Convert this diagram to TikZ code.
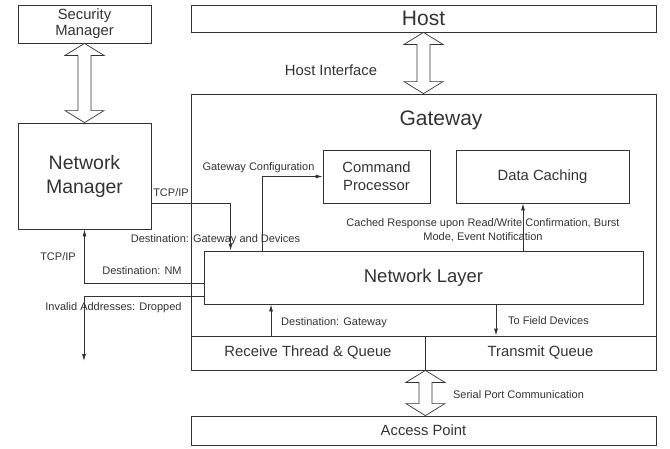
\documentclass[tikz,border=0pt]{standalone}
\usepackage{fontspec}
\setmainfont{Liberation Sans}
\usetikzlibrary{arrows.meta,calc}

% hollow two-headed arrow between two points on one vertical
\newcommand{\blockarrow}[2]{%
  \draw[fatarrow] (#1) -- ($(#1)+(19.5,12)$) -- ($(#1)+(6.5,12)$)
    -- ($(#2)+(6.5,-12)$) -- ($(#2)+(19.5,-12)$) -- (#2)
    -- ($(#2)+(-19.5,-12)$) -- ($(#2)+(-6.5,-12)$)
    -- ($(#1)+(-6.5,12)$) -- ($(#1)+(-19.5,12)$) -- cycle;}

\begin{document}
\begin{tikzpicture}[x=1pt,y=-1pt,>={Latex[length=7pt,width=4pt]},
                    line width=0.8pt,color=black!80]
  \tikzstyle{box}=[draw,rectangle,inner sep=0pt,align=center]
  \tikzstyle{huge}=[font=\fontsize{21}{25}\selectfont]
  \tikzstyle{big}=[font=\fontsize{19.5}{24}\selectfont]
  \tikzstyle{mid}=[font=\fontsize{14.8}{17.7}\selectfont]
  \tikzstyle{lbl}=[anchor=base,inner sep=0pt,align=center,
                   font=\fontsize{11}{14}\selectfont]
  \tikzstyle{flow}=[->]
  \tikzstyle{fatarrow}=[fill=white,line width=0.7pt]

  \useasboundingbox (0,0) rectangle (670,448);

	\node[box,mid,font=\fontsize{14.8}{16}\selectfont,
	      minimum width=133pt,minimum height=38pt]	(sm) at (84.5,24)	{Security\\Manager};
	\node[box,huge,minimum width=465pt,minimum height=27pt]	(host) at (423.5,18.5)	{Host};
	\node[box,big,minimum width=133pt,minimum height=106pt]	(nm) at (84.5,176)	{Network\\Manager};
	\node[box,minimum width=465pt,minimum height=242pt]	(gw) at (423.5,215)	{};
	\node[huge,anchor=base]	(gwtitle) at (441,125)	{Gateway};
	\node[box,mid,minimum width=107pt,minimum height=53pt]	(cp) at (376.5,176.5)	{Command\\Processor};
	\node[box,mid,minimum width=173pt,minimum height=53pt]	(dc) at (542.5,176.5)	{Data Caching};
	\node[box,font=\fontsize{18.5}{22}\selectfont,
	      minimum width=439pt,minimum height=53pt]	(nl) at (423.5,277.5)	{Network Layer};
	\node[box,mid,minimum width=234pt,minimum height=34pt]	(rx) at (308,353)	{Receive Thread \& Queue};
	\node[box,mid,minimum width=231pt,minimum height=34pt]	(tx) at (540.5,353)	{Transmit Queue};
	\node[box,mid,minimum width=465pt,minimum height=29pt]	(ap) at (423.5,430.5)	{Access Point};

	% labels
	\node[lbl,font=\fontsize{14.8}{17}\selectfont]	(hostif) at (331,75)	{Host Interface};
	\node[lbl]	(tcpa) at (171,196.7)	{TCP/IP};
	\node[lbl]	(gwconf) at (258.5,170)	{Gateway Configuration};
	\node[lbl]	(dstgd) at (215.5,242.3)	{Destination: Gateway and Devices};
	\node[lbl]	(cached) at (483,240.7)	{Cached Response upon Read/Write Confirmation, Burst\\Mode, Event Notification};
	\node[lbl]	(tcpb) at (58,260)	{TCP/IP};
	\node[lbl]	(dstnm) at (142,274)	{Destination: NM};
	\node[lbl]	(invalid) at (113.5,310.7)	{Invalid Addresses: Dropped};
	\node[lbl]	(dstgw) at (334,325.7)	{Destination: Gateway};
	\node[lbl]	(field) at (548.5,324)	{To Field Devices};
	\node[lbl]	(serial) at (518.5,398)	{Serial Port Communication};

	\coordinate (drop) at (84,361);
	\coordinate (dcin) at ([xshift=-19.5pt]dc.south);
	\coordinate (rxout) at ([xshift=-37pt]rx.north);
	\coordinate (txin) at ([xshift=-44.5pt]tx.north);
	\coordinate (sp) at (rx.south east |- ap.north);

	\draw[flow] ([yshift=26pt]nm.south east) -| ([xshift=27pt]nl.north west);
	\draw[flow] ([xshift=59pt]nl.north west) |- (cp.west);
	\draw[flow] (nl.north -| dcin) -- (dcin);
	\draw[flow] ([yshift=-5.5pt]nl.west) -| (nm.south);
	\draw[flow] ([yshift=-18.5pt]nl.west) -| (drop);
	\draw[flow] (rxout) -- (rxout |- nl.south);
	\draw[flow] (nl.south -| txin) -- (txin);

	\blockarrow{sm.south}{nm.north}
	\blockarrow{host.south}{gw.north}
	\blockarrow{rx.south east}{sp}

\end{tikzpicture}
\end{document}
